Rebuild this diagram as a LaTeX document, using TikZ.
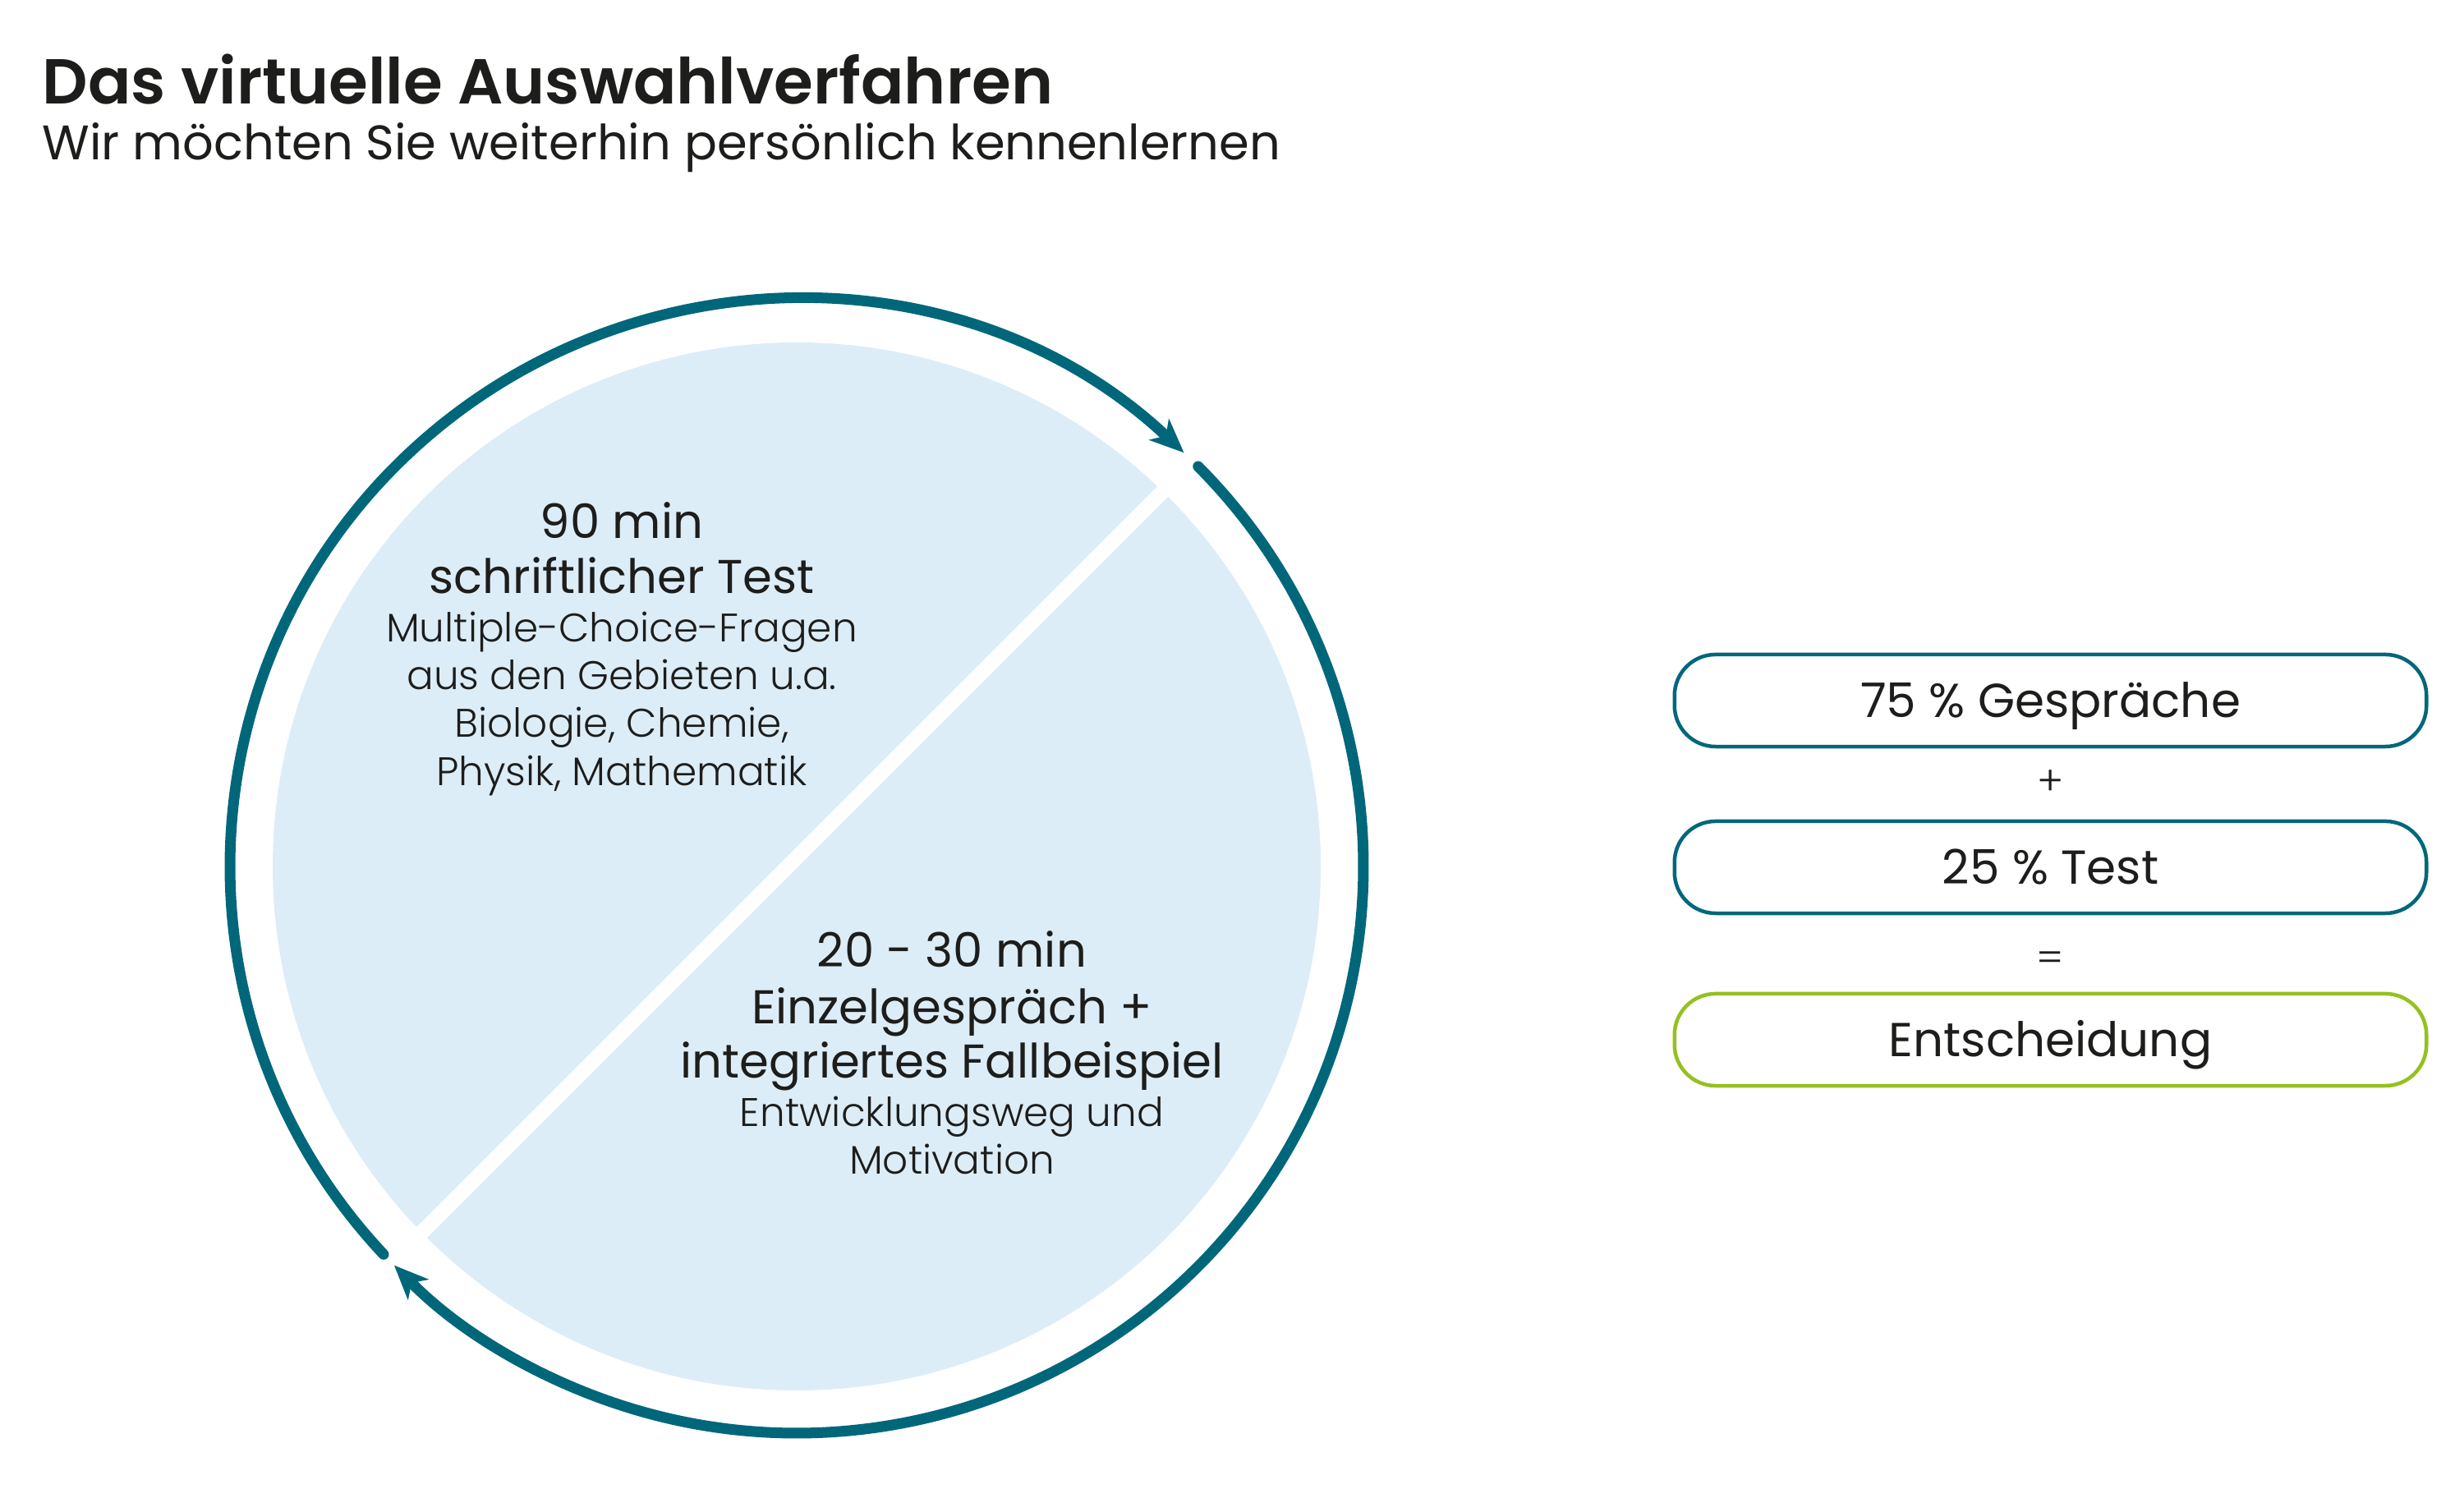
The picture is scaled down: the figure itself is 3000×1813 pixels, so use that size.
\documentclass[tikz,border=0pt]{standalone}
\usepackage{fontspec}
\setmainfont{Poppins}
\IfFontExistsTF{Poppins SemiBold}{\newfontfamily\ftitle{Poppins SemiBold}}{\newfontfamily\ftitle{Poppins}[FakeBold=1]}
\IfFontExistsTF{Poppins Light}{\newfontfamily\flight{Poppins Light}}{\newfontfamily\flight{Poppins}}
\usetikzlibrary{arrows.meta}
\definecolor{ringteal}{HTML}{00677A}
\definecolor{fillblue}{HTML}{DCEDF8}
\definecolor{okgreen}{HTML}{94C11F}
\definecolor{inkdark}{HTML}{1D1D1B}
\tikzset{
  ring/.style={draw=ringteal, line width=0.13cm, line cap=round},
  ringarrow/.style={-{Stealth[length=0.42cm, width=0.36cm, inset=0.12cm, line width=0pt]}},
  titletext/.style={anchor=base west, inner sep=0pt, text=inkdark, font=\ftitle\fontsize{22pt}{26pt}\selectfont},
  subtext/.style={anchor=base west, inner sep=0pt, text=inkdark, font=\fontsize{16.8pt}{19pt}\selectfont},
  headline/.style={anchor=base, inner sep=0pt, text=inkdark, font=\fontsize{16.4pt}{19pt}\selectfont},
  smalltext/.style={anchor=base, inner sep=0pt, text=inkdark, font=\flight\fontsize{13.8pt}{16pt}\selectfont},
  resultbox/.style={draw, line width=0.045cm, rounded corners=0.5cm, minimum width=9.15cm, minimum height=1.12cm, inner sep=0pt, text=inkdark, text height=0.42cm, text depth=0cm, font=\fontsize{16.5pt}{19pt}\selectfont},
  optext/.style={inner sep=0pt, text=inkdark, font=\flight\fontsize{14pt}{16pt}\selectfont}
}
\begin{document}
\begin{tikzpicture}[x=0.01cm, y=0.01cm]
\useasboundingbox (0,0) rectangle (3000,1813);
% titles
\node[titletext] (title) at (51,1686) {Das virtuelle Auswahlverfahren};
\node[subtext] (subtitle) at (51,1618) {Wir möchten Sie weiterhin persönlich kennenlernen};
% circle
\coordinate (C) at (970,758);
\fill[fillblue] (C) circle[radius=638];
\coordinate (B) at (964.6,763.4);
\draw[white, line width=0.18cm] ([shift={(-467,-467)}]B) -- ([shift={(467,467)}]B);
\draw[ring, ringarrow] ([shift={(223.2:690)}]C) arc[start angle=223.2, end angle=46.9, radius=690];
\draw[ring, ringarrow] ([shift={(44.9:690)}]C) arc[start angle=44.9, end angle=-135.25, radius=690];
% upper-left block
\node[headline] (t1) at (757,1157) {90 min};
\node[headline] (t2) at (757,1090) {schriftlicher Test};
\node[smalltext] (t3) at (757,1031) {Multiple-Choice-Fragen};
\node[smalltext] (t4) at (757,973) {aus den Gebieten u.a.};
\node[smalltext] (t5) at (757,915) {Biologie, Chemie,};
\node[smalltext] (t6) at (757,856) {Physik, Mathematik};
% lower-right block
\node[headline] (u1) at (1159,635) {20 - 30 min};
\node[headline] (u2) at (1159,566) {Einzelgespräch +};
\node[headline] (u3) at (1159,500) {integriertes Fallbeispiel};
\node[smalltext] (u4) at (1159,441) {Entwicklungsweg und};
\node[smalltext] (u5) at (1159,383) {Motivation};
% boxes
\node[resultbox, draw=ringteal] (b1) at (2496.5,960) {75 \% Gespräche};
\node[optext] (plus) at (2496.5,860) {+};
\node[resultbox, draw=ringteal] (b2) at (2496.5,757) {25 \% Test};
\node[optext] (eq) at (2496.5,642) {=};
\node[resultbox, draw=okgreen] (b3) at (2496.5,547) {Entscheidung};
\end{tikzpicture}
\end{document}
